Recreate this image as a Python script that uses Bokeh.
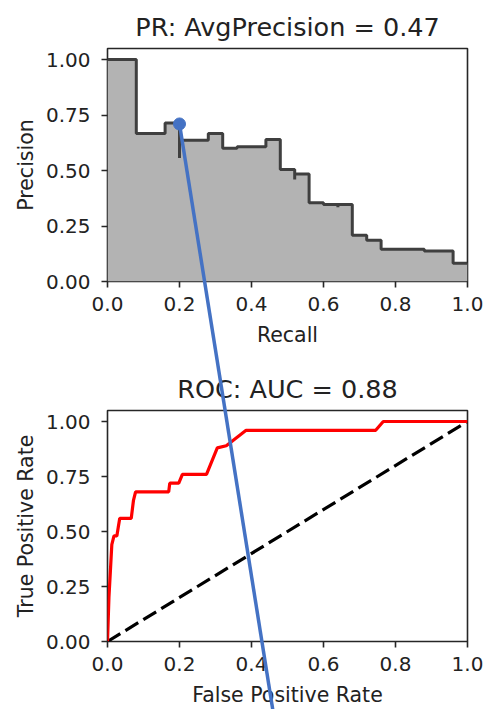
from bokeh.plotting import figure
from bokeh.models import Column, Range1d, FixedTicker
from bokeh.embed import file_html
from bokeh.resources import INLINE

# ---------------- data ----------------
recall = [0.0, 0.08, 0.16, 0.20, 0.20, 0.28, 0.32, 0.36, 0.44, 0.48, 0.52, 0.52,
          0.56, 0.60, 0.64, 0.64, 0.68, 0.72, 0.76, 0.88, 0.96, 1.0]
precision = [1.0, 0.667, 0.714, 0.556, 0.636, 0.667, 0.600, 0.607, 0.640, 0.505, 0.460, 0.485,
             0.355, 0.347, 0.335, 0.347, 0.208, 0.186, 0.145, 0.138, 0.082, 0.082]

fpr = [0.0, 0.004, 0.008, 0.012, 0.018, 0.026, 0.030, 0.034, 0.066, 0.072, 0.078,
       0.170, 0.173, 0.198, 0.208, 0.275, 0.305, 0.330, 0.385, 0.745, 0.766, 1.0]
tpr = [0.0, 0.20, 0.32, 0.44, 0.48, 0.48, 0.52, 0.56, 0.56, 0.64, 0.68,
       0.68, 0.72, 0.72, 0.76, 0.76, 0.88, 0.89, 0.96, 0.96, 1.0, 1.0]

chance_x = [0.0, 1.0]
chance_y = [0.0, 1.0]

x_ticks = [0.0, 0.2, 0.4, 0.6, 0.8, 1.0]
x_tick_labels = ["0.0", "0.2", "0.4", "0.6", "0.8", "1.0"]
y_ticks = [0.0, 0.25, 0.5, 0.75, 1.0]
y_tick_labels = ["0.00", "0.25", "0.50", "0.75", "1.00"]

pr_title = "PR: AvgPrecision = 0.47"
roc_title = "ROC: AUC = 0.88"

# call-out marker and line (in PR data coordinates)
marker_x = [0.2]
marker_y = [0.71]
callout_x = [0.2, 0.466]
callout_y = [0.71, -2.0]

# ---------------- layout ----------------
FONT = "DejaVu Sans"
W = 485
B_LEFT, B_RIGHT = 107, 18
FRAME_H = 233
Y_MAX = 1.05
TOP_H, TOP_BT = 355, 48
BOT_H, BOT_BT = 354, 55
TXT = "#222222"
EDGE = "#262626"


def make_fig(height, border_top, title, xlabel, ylabel):
    p = figure(width=W, height=height,
               x_range=Range1d(0, 1), y_range=Range1d(0, Y_MAX),
               min_border_left=B_LEFT, min_border_right=B_RIGHT,
               min_border_top=border_top,
               min_border_bottom=height - border_top - FRAME_H,
               toolbar_location=None, output_backend="svg", title=title)
    p.background_fill_color = "white"
    p.border_fill_color = "white"
    p.outline_line_color = EDGE
    p.outline_line_width = 1.6
    p.grid.visible = False

    p.title.text_font = FONT
    p.title.text_font_size = "25.5px"
    p.title.text_font_style = "normal"
    p.title.text_color = TXT
    p.title.align = "center"
    p.title.standoff = 14

    for ax in (p.xaxis[0], p.yaxis[0]):
        ax.axis_line_color = None
        ax.major_tick_line_color = EDGE
        ax.major_tick_line_width = 1.6
        ax.major_tick_out = 6
        ax.major_tick_in = 0
        ax.minor_tick_line_color = None
        ax.major_label_text_font = FONT
        ax.major_label_text_font_size = "20px"
        ax.major_label_text_color = TXT
        ax.axis_label_text_font = FONT
        ax.axis_label_text_font_size = "20.5px"
        ax.axis_label_text_font_style = "normal"
        ax.axis_label_text_color = TXT

    p.xaxis.ticker = FixedTicker(ticks=x_ticks)
    p.xaxis.major_label_overrides = dict(zip(x_ticks, x_tick_labels))
    p.yaxis.ticker = FixedTicker(ticks=y_ticks)
    p.yaxis.major_label_overrides = dict(zip(y_ticks, y_tick_labels))
    p.xaxis.major_label_standoff = 9
    p.yaxis.major_label_standoff = 11
    p.xaxis.axis_label = xlabel
    p.yaxis.axis_label = ylabel
    p.xaxis.axis_label_standoff = 9
    p.yaxis.axis_label_standoff = 5
    return p


# ---- PR plot ----
p1 = make_fig(TOP_H, TOP_BT, pr_title, "Recall", "Precision")
p1.varea_step(x=recall, y1=[0.0] * len(recall), y2=precision, step_mode="after",
              fill_color="#b3b3b3")
p1.step(x=recall, y=precision, mode="after", line_color="#3f3f3f", line_width=3)
p1.scatter(x=marker_x, y=marker_y, size=12, color="#4472C4")

# ---- ROC plot ----
p2 = make_fig(BOT_H, BOT_BT, roc_title, "False Positive Rate", "True Positive Rate")
p2.line(x=chance_x, y=chance_y, line_color="black", line_width=3.2, line_dash="15 6")
p2.line(x=fpr, y=tpr, line_color="red", line_width=3.2)

# ---- transparent overlay carrying the call-out line across both plots ----
# same horizontal borders and x range as the PR plot; vertically it spans the
# whole page, with its y range continuing the PR plot's precision axis.
TOTAL_H = TOP_H + BOT_H
ppu = FRAME_H / Y_MAX
y0_px = TOP_BT + FRAME_H
ov = figure(width=W, height=TOTAL_H,
            x_range=Range1d(0, 1),
            y_range=Range1d(-(TOTAL_H - y0_px) / ppu, y0_px / ppu),
            x_axis_type=None, y_axis_type=None,
            min_border_left=B_LEFT, min_border_right=B_RIGHT,
            min_border_top=0, min_border_bottom=0,
            toolbar_location=None, output_backend="svg",
            styles={"position": "absolute", "top": "0px", "left": "0px",
                    "pointer-events": "none", "z-index": "10"})
ov.title.visible = False
ov.background_fill_alpha = 0
ov.border_fill_alpha = 0
ov.outline_line_color = None
ov.grid.visible = False
ov.line(x=callout_x, y=callout_y, line_color="#4472C4", line_width=3.5)

layout = Column(children=[p1, p2, ov], styles={"position": "relative"})

open("out.html", "w").write(file_html(layout, INLINE))
